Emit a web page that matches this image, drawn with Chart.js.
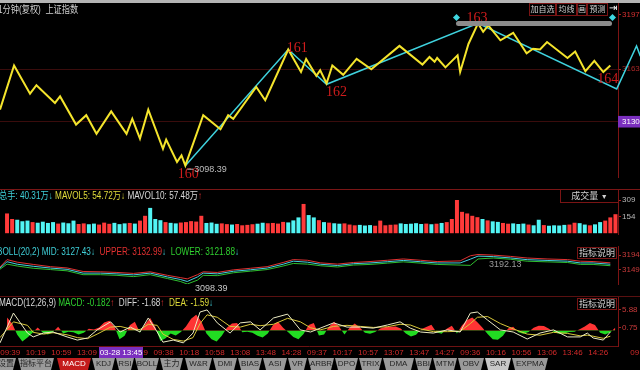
<!DOCTYPE html>
<html>
<head>
<meta charset="utf-8">
<script src="https://cdn.jsdelivr.net/npm/chart.js@4.4.1/dist/chart.umd.min.js"></script>
<style>
body { margin: 0; background: #000; width: 640px; height: 370px; overflow: hidden; position: relative;
  font-family: "Liberation Sans", "Noto Sans CJK SC", sans-serif; }
canvas { position: absolute; left: 0; display: block; }
.abs { position: absolute; white-space: pre; }
.hdr { position: absolute; left: -1px; font-size: 10px; line-height: 12px; white-space: pre;
  transform: scaleX(0.82); transform-origin: left center; }
.cy { color: #3fcfd8; } .ye { color: #e0dc3a; } .wh { color: #d8d8d8; } .rd { color: #e23030; }
.gr { color: #2fd02f; }
.box { position: absolute; border: 1px solid #7a1414; color: #d0d0d0; font-size: 8px; line-height: 11px;
  text-align: center; box-sizing: border-box; white-space: nowrap; overflow: hidden; }
.sep { position: absolute; left: 0; width: 640px; height: 1px; }
#tabs { position: absolute; top: 358px; left: 0; width: 640px; height: 12px; }
#tabs span { position: absolute; top: 0; height: 12px; font-size: 8px; line-height: 12px; text-align: center;
  background: #9a9a9a; color: #262626; white-space: nowrap; overflow: hidden;
  clip-path: polygon(0 0, 100% 0, calc(100% - 3px) 100%, 3px 100%); }
#tabs span.on { background: #c41c1c; color: #fff; }
#tabs span.lt { background: #c8c8c8; }
</style>
</head>
<body>
<canvas id="mainChart" width="640" height="189" style="top:0"></canvas>
<canvas id="volChart" width="640" height="56" style="top:190px"></canvas>
<canvas id="bollChart" width="640" height="50" style="top:246px"></canvas>
<canvas id="macdChart" width="640" height="61" style="top:297px"></canvas>

<div class="abs" style="top:0;left:0;width:640px;height:3px;background:#b4b4b4"></div>
<div class="hdr wh" style="top:4px;left:-2px;color:#cfcfcf">1分钟(复权)  上证指数</div>
<div class="box" style="left:529px;top:3px;width:27px;height:13px">加自选</div>
<div class="box" style="left:556px;top:3px;width:21px;height:13px">均线</div>
<div class="box" style="left:577px;top:3px;width:10px;height:13px">画</div>
<div class="box" style="left:587px;top:3px;width:21px;height:13px">预测</div>
<div class="abs" style="left:609px;top:2px;font-size:10px;color:#fff;font-family:'DejaVu Sans'">⇥</div>

<!-- range bar above pivot 163 -->
<div class="abs" style="left:456px;top:21px;width:156px;height:5px;border-radius:3px;background:#8c8c8c"></div>
<div class="abs" style="left:454px;top:15px;width:5px;height:5px;background:#3fd6e0;transform:rotate(45deg)"></div>
<div class="abs" style="left:610px;top:15px;width:5px;height:5px;background:#3fd6e0;transform:rotate(45deg)"></div>

<div class="sep" style="top:189px;background:#7a1616"></div>
<div class="sep" style="top:296px;background:#5a1010"></div>

<div class="hdr" style="top:190px"><span class="cy">总手: 40.31万↓</span> <span class="ye">MAVOL5: 54.72万↓</span> <span class="wh">MAVOL10: 57.48万</span><span class="rd">↑</span></div>
<div class="box" style="left:560px;top:189px;width:59px;height:14px;line-height:12px;font-size:9px">成交量    <span style="font-size:7px">▼</span></div>

<div class="hdr" style="top:246px;left:-3px"><span class="cy">BOLL(20,2) MID: 3127.43↓</span>  <span class="rd">UPPER: 3132.99</span><span class="cy">↓</span>  <span class="gr">LOWER: 3121.88</span><span class="cy">↓</span></div>
<div class="box" style="left:577px;top:247px;width:40px;height:12px;font-size:9px">指标说明</div>
<div class="abs" style="left:195px;top:283px;font-size:9px;color:#c8c8c8">3098.39</div>
<div class="abs" style="left:489px;top:259px;font-size:9px;color:#9a9a9a">3192.13</div>

<div class="hdr" style="top:297px"><span class="wh">MACD(12,26,9)</span> <span class="gr">MACD: -0.182</span><span class="rd">↑</span>  <span class="wh">DIFF: -1.68</span><span class="rd">↑</span>  <span class="ye">DEA: -1.59</span><span class="cy">↓</span></div>
<div class="box" style="left:577px;top:298px;width:40px;height:12px;font-size:9px">指标说明</div>

<div class="abs" style="left:99px;top:347px;width:44px;height:11px;background:#7b2fbf;color:#fff;font-size:8px;line-height:11px;text-align:center">03-28 13:45</div>

<div id="tabs"></div>

<script>
// visible window in 1-minute bar index (4 trading days)
const XMIN = -7;
const XMAX = 960;

// price zigzag (bar index, index points)
const priceIdx = [-7, 15, 40, 50, 79, 87, 112, 128, 144, 167, 191, 200, 212, 225, 248, 253, 270, 277, 283, 311,
  338, 350, 358, 394, 408, 444, 464, 472, 488, 494, 504, 513, 530, 551, 574, 618, 654, 665, 673, 677,
  690, 709, 713, 726, 741, 749, 757, 776, 796, 817, 827, 838, 849, 881, 893, 909, 923, 937, 948];
const priceVal = [3137.6, 3165.3, 3147.6, 3152.9, 3141.8, 3145.9, 3128.2, 3134.1, 3122.4, 3136.5,
  3122.4, 3131.8, 3119.4, 3137.6, 3113.0, 3118.8, 3104.7, 3108.8, 3102.4, 3134.1,
  3125.3, 3134.1, 3131.8, 3151.8, 3143.5, 3175.3, 3161.2, 3169.4, 3158.8, 3162.3,
  3154.1, 3165.3, 3159.4, 3169.4, 3162.9, 3177.6, 3165.9, 3170.6, 3167.6, 3170.0,
  3164.1, 3171.7, 3161.2, 3178.8, 3191.7, 3186.4, 3190.5, 3181.1, 3185.8, 3172.9,
  3175.8, 3175.3, 3180.0, 3170.0, 3174.1, 3161.7, 3168.2, 3161.2, 3165.3];

// wave pivots (cyan trend line) and the tail that runs past the axis
const pivotName = ['160', '161', '162', '163', '164'];
const pivotIdx = [283, 444, 504, 741, 958];
const pivotVal = [3102.4, 3175.3, 3153.5, 3191.7, 3150.6];
const tailIdx = [989, 995];
const tailVal = [3177.6, 3171.1];
const lowLabel = '3098.39';

// volume, one bar per 8 minutes
const VOL_STEP = 8;
const volVal = [185, 133, 126, 112, 118, 104, 98, 108, 96, 104, 90, 100, 93, 118, 86, 92, 84, 90, 81, 99,
  88, 97, 85, 92, 96, 90, 118, 163, 237, 133, 122, 104, 97, 92, 100, 104, 113, 109, 163, 96,
  100, 88, 92, 85, 81, 86, 74, 78, 84, 89, 98, 93, 96, 90, 106, 101, 120, 148, 274, 170,
  148, 122, 104, 99, 93, 89, 92, 81, 74, 78, 72, 76, 70, 118, 74, 79, 81, 92, 86, 89,
  94, 86, 90, 84, 89, 96, 104, 133, 311, 200, 185, 163, 150, 133, 120, 111, 106, 96, 89, 92,
  86, 90, 81, 74, 126, 76, 70, 74, 72, 78, 81, 98, 94, 81, 74, 83, 104, 118, 148, 178];

// BOLL(20,2)
const bollIdx = [-7, 4, 20, 45, 72, 98, 123, 150, 176, 202, 228, 255, 275, 286, 302, 311, 333, 358, 385, 411,
  436, 452, 474, 494, 521, 546, 572, 599, 624, 651, 677, 713, 729, 741, 765, 792, 818, 849, 881, 901, 921, 948];
const bollMid = [3153.7, 3173.4, 3165.6, 3159.2, 3153.7, 3149.7, 3137.9, 3137.9, 3135.5, 3132.4,
  3137.9, 3126.0, 3118.2, 3111.8, 3126.0, 3137.9, 3135.5, 3143.6, 3148.3, 3153.7,
  3165.6, 3175.1, 3172.0, 3165.6, 3161.6, 3167.2, 3169.6, 3173.4, 3177.4, 3173.4,
  3169.6, 3169.6, 3181.4, 3190.9, 3189.3, 3185.2, 3179.8, 3177.4, 3175.1, 3169.6, 3169.6, 3165.6];
const bollUp = [3157, 3180, 3172, 3165, 3158, 3154, 3143, 3142, 3140, 3137, 3142, 3131, 3124, 3120, 3133, 3142,
  3140, 3148, 3153, 3158, 3171, 3180, 3178, 3170, 3166, 3171, 3174, 3178, 3182, 3178, 3174, 3176,
  3192, 3196, 3194, 3190, 3185, 3182, 3180, 3175, 3174, 3170];
const bollLow = [3150, 3166, 3160, 3153, 3149, 3145, 3133, 3133, 3131, 3127, 3133, 3121, 3112, 3104, 3116, 3131,
  3130, 3139, 3144, 3149, 3160, 3168, 3166, 3161, 3157, 3163, 3165, 3169, 3173, 3169, 3165, 3163,
  3162, 3182, 3185, 3181, 3175, 3173, 3171, 3165, 3165, 3161];

// MACD(12,26,9): histogram per 8 minutes, DIFF / DEA lines
const macdHist = [3.7, 2.0, -1.2, -3.1, -2.0, -0.6, 0.9, -0.6, -1.1, -0.4,
  1.1, -0.8, -0.3, -0.5, -1.1, -0.6, 0.5, 0.3, 0.9, 2.3,
  2.8, 1.2, -2.5, -1.5, 1.5, 2.5, -0.6, 1.8, 3.6, 1.0,
  -3.0, -2.2, -0.8, -1.4, -0.4, 1.2, 3.4, 4.5, 2.6, -0.8,
  -2.5, -3.1, -1.5, 0.8, 2.0, 2.2, -0.5, -0.3, -0.6, -1.5,
  -2.0, -0.8, 1.5, 2.5, 0.8, -0.5, -1.8, -2.5, -1.0, 1.6,
  2.2, -1.4, -1.1, 1.2, 2.5, 1.0, -1.1, 0.8, 2.0, 0.9,
  -0.6, -0.9, -0.4, 0.6, 1.0, 1.1, 1.2, 0.6, -0.8, -1.7,
  -1.2, 0.4, 1.0, 1.7, -0.5, -0.9, 0.5, 1.4, -0.8, 1.5,
  3.0, 3.7, 2.4, 0.8, -1.0, -2.5, -2.6, -1.5, 0.6, 1.1,
  -0.5, -0.9, -0.4, 0.8, 1.4, 1.3, 0.5, -0.5, -0.9, -0.8,
  -0.4, -0.3, 0.4, 1.2, 2.2, 1.6, -0.6, -1.1, -0.5, 0.9];
const lineIdx = [-7, 14, 36, 45, 61, 76, 98, 114, 130, 145, 166, 181, 197, 212, 225, 239, 248, 264, 280, 295,
  306, 317, 333, 353, 369, 385, 400, 421, 443, 463, 479, 494, 515, 536, 557, 577, 599, 619, 635, 651,
  671, 693, 713, 729, 740, 756, 776, 796, 818, 838, 859, 881, 901, 912, 921, 937, 948];
const diffVal = [-3.5, 5.0, -0.7, -1.8, -0.7, -0.4, -1.8, -2.7, -2.1, 0.2, 2.5, -0.4, 1.0, -0.4, 3.6, -0.4, -3.3, -2.7, -3.5, -0.7,
  5.3, 5.9, 2.2, -0.7, 2.2, 2.5, 0.2, 3.6, 4.7, 0.2, -0.4, 0.7, 2.2, 1.0, 1.0, 0.7, 1.6, 2.5, 0.7, -0.4,
  -0.7, 0.2, -0.4, 5.0, 5.3, 3.0, 0.2, -0.4, -2.4, -0.7, 0.2, -1.8, -1.8, -0.7, -2.1, -2.7, -0.4];
const deaVal = [-2.0, 2.5, 1.5, -0.5, -1.0, -0.6, -1.2, -2.0, -2.3, -1.0, 1.0, 1.2, 0.5, 0.3, 1.8, 1.5, -1.0, -2.5, -3.0, -2.0,
  2.0, 4.5, 3.8, 1.2, 1.0, 1.8, 1.4, 1.8, 3.5, 2.5, 0.8, 0.2, 1.2, 1.5, 1.2, 0.9, 1.1, 1.8, 1.6, 0.5,
  -0.3, -0.3, -0.2, 2.0, 3.8, 4.0, 2.0, 0.5, -1.0, -1.3, -0.5, -0.8, -1.5, -1.3, -1.6, -2.2, -1.6];

// time axis
const timeIdx = [9, 49, 89, 129, 169, 209, 249, 289, 329, 369, 409, 449, 489, 529, 569, 609, 649, 689, 729, 769, 809, 849, 889, 929, 995];
const timeLabels = ['09:39', '10:19', '10:59', '13:09', '13:49', '14:29', '09:38', '10:18', '10:58', '13:08', '13:48', '14:28',
  '09:37', '10:17', '10:57', '13:07', '13:47', '14:27', '09:36', '10:16', '10:56', '13:06', '13:46', '14:26', '09:25'];

// right-hand axis ticks
const priceTicks = [3197, 3163, 3130];
const volTicks = [309, 154];
const bollTicks = [3194, 3149];
const macdTicks = [5.88, 0.75];

const tabNames = ['设置', '指标平台', 'MACD', 'KDJ', 'RSI', 'BOLL', '主力', 'W&R', 'DMI', 'BIAS', 'ASI', 'VR', 'ARBR',
  'DPO', 'TRIX', 'DMA', 'BBI', 'MTM', 'OBV', 'SAR', 'EXPMA'];

const RED = '#ff3a3a';
const CYAN = '#52f4f4';
const FONT = 'Liberation Sans';

const pts = (xs, ys) => xs.map((x, i) => ({ x: x, y: ys[i] }));

function rising(x) {
    let j = 0;
    while (j < priceIdx.length - 2 && priceIdx[j + 1] <= x) j++;
    return priceVal[j + 1] >= priceVal[j];
}

function timeAxis(show) {
    return {
        type: 'linear',
        display: show,
        bounds: 'data',
        offset: false,
        afterBuildTicks: s => {
            s.min = XMIN;
            s.max = XMAX;
            s.ticks = timeIdx.map(v => ({ value: v }));
        },
        afterFit: s => { s.height = 12; s.paddingLeft = 0; s.paddingRight = 0; },
        grid: { display: false, drawTicks: false },
        border: { display: true, color: '#6e1212' },
        ticks: {
            autoSkip: false, maxRotation: 0, padding: 2, color: '#d42a2a',
            font: { size: 8, family: FONT },
            callback: (v, i) => timeLabels[i]
        }
    };
}

function valueAxis(min, max, tickVals, color, extra) {
    const ax = {
        position: 'right', min: min, max: max,
        afterFit: s => { s.width = 22; s.paddingTop = 0; s.paddingBottom = 0; },
        afterBuildTicks: s => { s.ticks = tickVals.map(v => ({ value: v })); },
        border: { color: '#7c1414' },
        grid: { color: 'transparent', drawTicks: true, tickLength: 3, tickColor: '#a82020' },
        ticks: { color: color, padding: 1, font: { size: 8, family: FONT }, callback: v => String(v) }
    };
    return Object.assign(ax, extra || {});
}

function baseOptions(scales) {
    return {
        responsive: false,
        animation: false,
        events: [],
        layout: { padding: 0 },
        plugins: { legend: { display: false }, tooltip: { enabled: false } },
        scales: scales
    };
}

// wave numbers and the low-point marker
const pivotLabels = {
    id: 'pivotLabels',
    afterDatasetsDraw(chart) {
        const { ctx, scales: { x, y } } = chart;
        const offsets = [[3, 9], [9, -1], [10, 8], [-1, -5], [-9, -10]];
        ctx.save();
        ctx.font = '14px "Liberation Serif"';
        ctx.fillStyle = '#d01c1c';
        ctx.textAlign = 'center';
        ctx.textBaseline = 'middle';
        pivotName.forEach((n, i) => {
            const px = x.getPixelForValue(pivotIdx[i]);
            const py = y.getPixelForValue(pivotVal[i]);
            ctx.fillText(n, px + offsets[i][0], py + offsets[i][1]);
        });
        const lx = x.getPixelForValue(pivotIdx[0]);
        const ly = y.getPixelForValue(pivotVal[0]);
        ctx.strokeStyle = '#bbbbbb';
        ctx.lineWidth = 1;
        ctx.beginPath();
        ctx.moveTo(lx + 2, ly + 3.5);
        ctx.lineTo(lx + 8, ly + 3.5);
        ctx.stroke();
        ctx.font = '9px "Liberation Sans"';
        ctx.fillStyle = '#bdbdbd';
        ctx.textAlign = 'left';
        ctx.fillText(lowLabel, lx + 9, ly + 3.5);
        ctx.restore();
    }
};

const mainY = valueAxis(3095.3, 3206.4, priceTicks, c => {
    const v = c.tick && c.tick.value;
    return v === 3130 ? '#ffffff' : v === 3197 ? '#d63030' : '#a82626';
}, {
    grid: {
        color: c => (c.tick && c.tick.value !== 3197) ? '#3a0c0c' : 'transparent',
        drawTicks: true, tickLength: 3, tickColor: '#a82020'
    }
});
// purple crosshair price label on 3130
mainY.ticks.showLabelBackdrop = c => !!(c.tick && c.tick.value === 3130);
mainY.ticks.backdropColor = '#7b2fbf';
mainY.ticks.backdropPadding = { x: 4, y: 1 };

new Chart(document.getElementById('mainChart'), {
    type: 'line',
    data: {
        datasets: [
            {
                data: pts(priceIdx, priceVal),
                borderColor: '#f4e42c', borderWidth: 2, pointRadius: 0, tension: 0
            },
            {
                data: pts(pivotIdx.concat(tailIdx), pivotVal.concat(tailVal)),
                borderColor: '#3fd2de', borderWidth: 1.5, pointRadius: 0, tension: 0, clip: false
            }
        ]
    },
    options: baseOptions({ x: timeAxis(false), y: mainY }),
    plugins: [pivotLabels]
});

new Chart(document.getElementById('volChart'), {
    type: 'bar',
    data: {
        datasets: [{
            data: volVal.map((v, i) => ({ x: i * VOL_STEP + VOL_STEP / 2, y: v })),
            backgroundColor: c => (c.raw && rising(c.raw.x)) ? RED : CYAN,
            barPercentage: 0.78, categoryPercentage: 1, borderWidth: 0
        }]
    },
    options: baseOptions({
        x: timeAxis(false),
        y: valueAxis(-7.4, 404.6, volTicks, '#b8b8b8')
    })
});

new Chart(document.getElementById('bollChart'), {
    type: 'line',
    data: {
        datasets: [
            { data: pts(bollIdx, bollUp), borderColor: '#e03232', borderWidth: 1, pointRadius: 0 },
            { data: pts(bollIdx, bollMid), borderColor: '#46cfe0', borderWidth: 1, pointRadius: 0 },
            { data: pts(bollIdx, bollLow), borderColor: '#2fbf2f', borderWidth: 1, pointRadius: 0 }
        ]
    },
    options: baseOptions({
        x: timeAxis(false),
        y: valueAxis(3104.0, 3222.4, bollTicks, '#c83a3a')
    })
});

new Chart(document.getElementById('macdChart'), {
    type: 'line',
    data: {
        datasets: [
            { data: pts(lineIdx, diffVal), borderColor: '#ecebc4', borderWidth: 1, pointRadius: 0 },
            { data: pts(lineIdx, deaVal), borderColor: '#d8c83a', borderWidth: 1, pointRadius: 0 },
            {
                data: macdHist.map((v, i) => ({ x: i * VOL_STEP + VOL_STEP / 2, y: v })),
                borderColor: 'transparent', borderWidth: 0, pointRadius: 0,
                fill: { target: 'origin', above: '#ff3434', below: '#22dc22' }
            }
        ]
    },
    options: baseOptions({
        x: timeAxis(true),
        y: valueAxis(-4.39, 9.58, macdTicks, '#c83a3a')
    })
});

// indicator tabs along the bottom
const tabLeft = [-4, 18, 57, 92, 116, 135, 160, 185, 213, 238, 263, 288, 308, 335, 359, 383, 415, 433, 458, 485, 512];
const tabRight = [16, 54, 91, 115, 134, 159, 183, 212, 237, 262, 287, 307, 334, 358, 382, 414, 432, 457, 484, 511, 548];
const tabs = document.getElementById('tabs');
tabNames.forEach((name, i) => {
    const s = document.createElement('span');
    s.textContent = name;
    s.style.left = tabLeft[i] + 'px';
    s.style.width = (tabRight[i] - tabLeft[i]) + 'px';
    if (name === 'MACD') s.className = 'on';
    if (name === 'SAR') s.className = 'lt';
    tabs.appendChild(s);
});
</script>
</body>
</html>
